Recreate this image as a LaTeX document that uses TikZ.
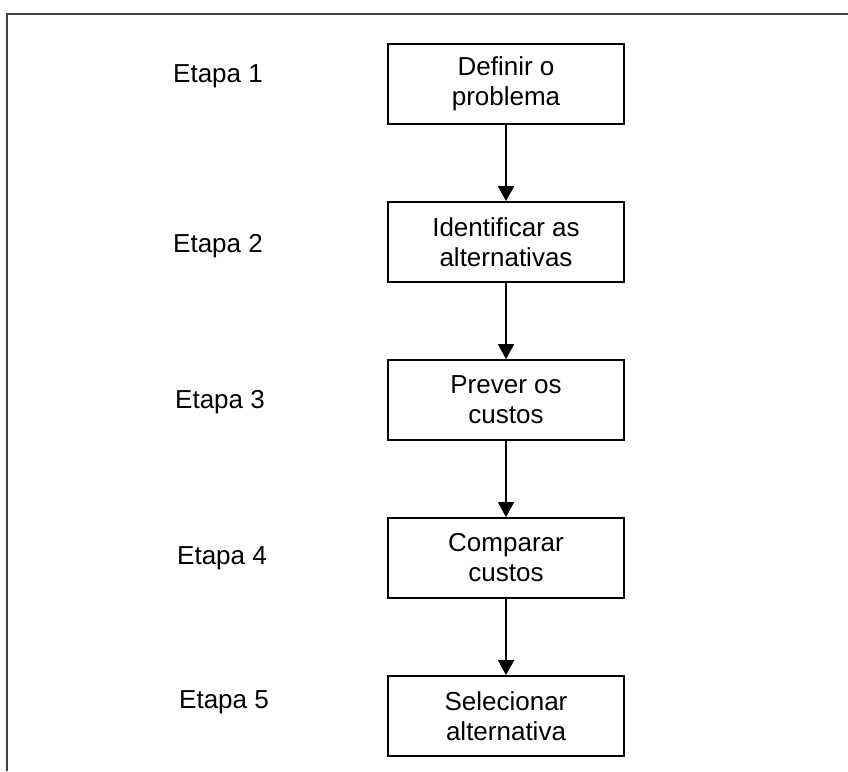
\documentclass[tikz,border=0pt]{standalone}
\usepackage{fontspec}
\setmainfont{Liberation Sans}
\usetikzlibrary{arrows.meta}
\begin{document}
\begin{tikzpicture}[x=1pt,y=-1pt,
  stepbox/.style={draw=black,line width=1.8pt,minimum width=236pt,minimum height=80pt,
    inner sep=0pt,align=center,font=\fontsize{26}{30}\selectfont},
  etapa/.style={anchor=base,inner sep=0pt,font=\fontsize{26}{30}\selectfont},
  flow/.style={line width=1.8pt,-{Triangle[length=15pt,width=16pt]}},
  frame/.style={draw=black!75,line width=2pt}]
\useasboundingbox (0,0) rectangle (848,771);
\coordinate (fl) at (7,771);
\coordinate (fc) at (7,14);
\coordinate (fr) at (848,14);
\draw[frame] (fl) -- (fc) -- (fr);
\node[stepbox] (b1) at (506,84) {Definir o\\problema};
\node[stepbox] (b2) at (506,242) {Identificar as\\alternativas};
\node[stepbox] (b3) at (506,400) {Prever os\\custos};
\node[stepbox] (b4) at (506,558) {Comparar\\custos};
\node[stepbox] (b5) at (506,716) {Selecionar\\alternativa};
\node[etapa] (e1) at (218,82) {Etapa 1};
\node[etapa] (e2) at (218,252) {Etapa 2};
\node[etapa] (e3) at (220,408) {Etapa 3};
\node[etapa] (e4) at (222,564) {Etapa 4};
\node[etapa] (e5) at (224,708) {Etapa 5};
\draw[flow] (b1) -- (b2);
\draw[flow] (b2) -- (b3);
\draw[flow] (b3) -- (b4);
\draw[flow] (b4) -- (b5);
\end{tikzpicture}
\end{document}
